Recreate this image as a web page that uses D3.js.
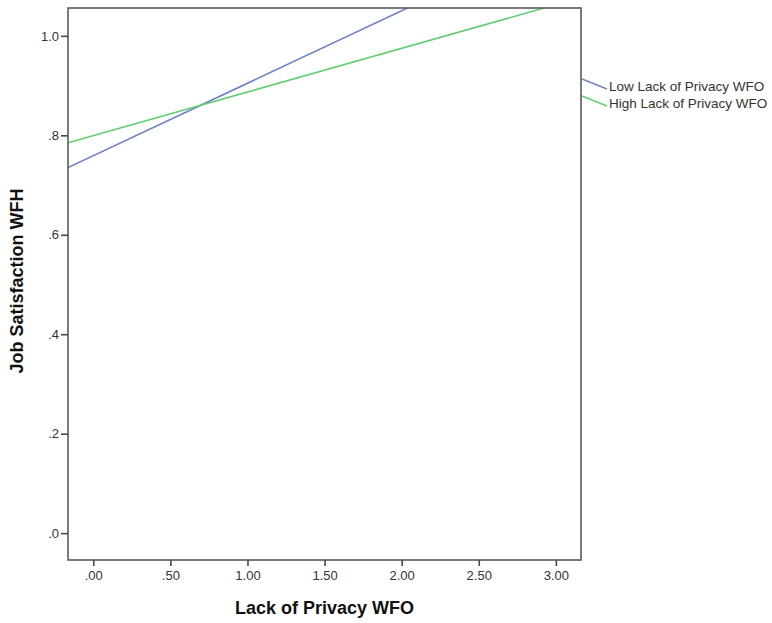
<!DOCTYPE html>
<html>
<head>
<meta charset="utf-8">
<script src="https://cdn.jsdelivr.net/npm/d3@7"></script>
<style>
  body { margin: 0; background: #fff; }
  svg text { font-family: "Liberation Sans", Arial, sans-serif; }
</style>
</head>
<body>
<svg width="772" height="623"></svg>
<script>
// two fitted lines, given at the ends of the x range (clipped to the frame)
let xEnds = [-0.164, 3.163];
let lowValues = [0.735, 1.220];
let highValues = [0.785, 1.077];
let seriesNames = ["Low Lack of Privacy WFO", "High Lack of Privacy WFO"];
let xTicks = [0, 0.5, 1, 1.5, 2, 2.5, 3];
let yTicks = [0, 0.2, 0.4, 0.6, 0.8, 1.0];

let svg = d3.select("svg");
let margin = { top: 8, right: 191, bottom: 63, left: 68 };
let plotWidth = 772 - margin.left - margin.right;
let plotHeight = 623 - margin.top - margin.bottom;

let x = d3.scaleLinear().domain([-0.164, 3.163]).range([0, plotWidth]);
let y = d3.scaleLinear().domain([-0.054, 1.056]).range([plotHeight, 0]);

let colors = ["#6f84c6", "#63cd72"];

let plot = svg.append("g").attr("id", "plot")
  .attr("transform", "translate(" + margin.left + "," + margin.top + ")");

plot.append("clipPath").attr("id", "clip")
  .append("rect").attr("width", plotWidth).attr("height", plotHeight);

let line = d3.line().x(d => x(d[0])).y(d => y(d[1]));
let series = [lowValues, highValues];
series.forEach(function(vals, i) {
  plot.append("path")
    .datum(xEnds.map((xv, j) => [xv, vals[j]]))
    .attr("d", line)
    .attr("clip-path", "url(#clip)")
    .attr("fill", "none")
    .attr("stroke", colors[i])
    .attr("stroke-width", 1.6);
});

// frame
plot.append("rect")
  .attr("width", plotWidth).attr("height", plotHeight)
  .attr("fill", "none").attr("stroke", "#5a5a5a").attr("stroke-width", 1.6);

let fmtX = d => d3.format(".2f")(d).replace(/^0/, "");
let fmtY = d => d3.format(".1f")(d).replace(/^0/, "");

let xAxis = d3.axisBottom(x).tickValues(xTicks).tickFormat(fmtX).tickSize(6).tickPadding(5);
let xGroup = plot.append("g").attr("id", "x-axis")
  .attr("transform", "translate(0," + plotHeight + ")")
  .call(xAxis);

let yAxis = d3.axisLeft(y).tickValues(yTicks).tickFormat(fmtY).tickSize(7).tickPadding(2);
let yGroup = plot.append("g").attr("id", "y-axis").call(yAxis);

[xGroup, yGroup].forEach(function(g) {
  g.select(".domain").remove();
  g.selectAll(".tick line").attr("stroke", "#4a4a4a").attr("stroke-width", 1.6);
  g.selectAll(".tick text").attr("fill", "#333").style("font-size", "13px");
});

// axis titles
plot.append("text")
  .attr("transform", "translate(" + (plotWidth / 2) + "," + (plotHeight + 54) + ")")
  .style("text-anchor", "middle")
  .style("font-size", "18px").style("font-weight", "bold").attr("fill", "#111")
  .text("Lack of Privacy WFO");

plot.append("text")
  .attr("transform", "translate(" + (-45) + "," + (plotHeight / 2 - 3) + ") rotate(-90)")
  .style("text-anchor", "middle")
  .style("font-size", "18px").style("font-weight", "bold").attr("fill", "#111")
  .text("Job Satisfaction WFH");

// legend
let legend = svg.append("g").attr("id", "legend")
  .attr("transform", "translate(" + (margin.left + plotWidth) + ",79)");
seriesNames.forEach(function(name, i) {
  let g = legend.append("g").attr("transform", "translate(0," + (i * 17) + ")");
  g.append("line")
    .attr("x1", 1).attr("y1", 0).attr("x2", 26).attr("y2", 10)
    .attr("stroke", colors[i]).attr("stroke-width", 1.4);
  g.append("text")
    .attr("x", 28).attr("y", 12)
    .style("font-size", "13.5px").attr("fill", "#333")
    .text(name);
});
</script>
</body>
</html>
